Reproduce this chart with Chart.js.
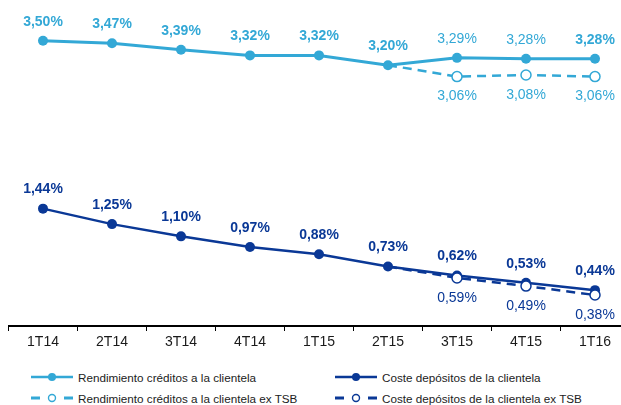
<!DOCTYPE html>
<html>
<head>
<meta charset="utf-8">
<script src="https://cdn.jsdelivr.net/npm/chart.js@4.4.1/dist/chart.umd.min.js"></script>
<style>
  html, body { margin:0; padding:0; background:#fff; }
  #frame { position:relative; width:621px; height:405px; overflow:hidden; }
  #wrap  { position:absolute; left:0; top:0; width:640px; height:355px; }
  #legend {
    position:absolute; left:31px; top:369px;
    display:grid; grid-template-columns:304px 280px; row-gap:5px;
    font:11.7px "Liberation Sans", Arial, sans-serif; color:#222;
  }
  .lg-item { display:flex; align-items:center; height:16px; white-space:nowrap; }
  .lg-item svg { margin-right:5px; flex:none; }
</style>
</head>
<body>
<div id="frame">
  <div id="wrap"><canvas id="chart"></canvas></div>
  <div id="legend"></div>
</div>
<script>
// ── Data ────────────────────────────────────────────────────────────────────
const quarters         = ['1T14','2T14','3T14','4T14','1T15','2T15','3T15','4T15','1T16'];
const rendimiento      = [3.50, 3.47, 3.39, 3.32, 3.32, 3.20, 3.29, 3.28, 3.28];
const rendimientoExTSB = [null, null, null, null, null, 3.20, 3.06, 3.08, 3.06];
const coste            = [1.44, 1.25, 1.10, 0.97, 0.88, 0.73, 0.62, 0.53, 0.44];
const costeExTSB       = [null, null, null, null, null, 0.73, 0.59, 0.49, 0.38];

// ── Styling ─────────────────────────────────────────────────────────────────
const LIGHT = '#33a8d6';
const DARK  = '#0a3896';
const FONT  = '"Liberation Sans", Arial, sans-serif';
const DASH  = [9, 6];

// which labels are bold (others regular), and where the ex-TSB branch starts
const boldRend  = [true, true, true, true, true, true, false, false, true];
const branchIdx = 5;

const fmt = v => v.toFixed(2).replace('.', ',') + '%';

const pointLabels = {
  id: 'pointLabels',
  afterDatasetsDraw(chart) {
    const ctx = chart.ctx;
    ctx.save();
    ctx.textAlign = 'center';
    ctx.textBaseline = 'middle';
    chart.data.datasets.forEach((ds, di) => {
      const meta = chart.getDatasetMeta(di);
      meta.data.forEach((pt, i) => {
        const v = ds.data[i];
        if (v == null) return;
        if (ds.ex && i === branchIdx) return;
        const bold = ds.boldLabels ? ds.boldLabels[i] : false;
        ctx.font = (bold ? 'bold ' : '') + '14px ' + FONT;
        ctx.fillStyle = ds.borderColor;
        const dy = ds.ex ? 20 : -19;
        ctx.fillText(fmt(v), pt.x, pt.y + dy);
      });
    });
    ctx.restore();
  }
};

const hideAt = (n, idx) => Array.from({length:n}, (_, i) => i === idx ? 0 : 5);

const chart = new Chart(document.getElementById('chart').getContext('2d'), {
  type: 'line',
  data: {
    labels: quarters,
    datasets: [{
      label: 'Rendimiento créditos a la clientela',
      data: rendimiento,
      borderColor: LIGHT, backgroundColor: LIGHT,
      pointBackgroundColor: LIGHT, pointBorderColor: LIGHT,
      borderWidth: 3, pointRadius: 5, pointBorderWidth: 0,
      boldLabels: boldRend, order: 2,
    }, {
      label: 'Coste depósitos de la clientela',
      data: coste,
      borderColor: DARK, backgroundColor: DARK,
      pointBackgroundColor: DARK, pointBorderColor: DARK,
      borderWidth: 2.5, pointRadius: 5, pointBorderWidth: 0,
      boldLabels: coste.map(() => true), order: 2,
    }, {
      label: 'Rendimiento créditos a la clientela ex TSB',
      data: rendimientoExTSB, ex: true,
      borderColor: LIGHT, backgroundColor: '#fff',
      pointBackgroundColor: '#fff', pointBorderColor: LIGHT,
      borderWidth: 2.5, borderDash: DASH,
      pointRadius: hideAt(quarters.length, branchIdx), pointBorderWidth: 1.5,
      order: 1,
    }, {
      label: 'Coste depósitos de la clientela ex TSB',
      data: costeExTSB, ex: true,
      borderColor: DARK, backgroundColor: '#fff',
      pointBackgroundColor: '#fff', pointBorderColor: DARK,
      borderWidth: 2.5, borderDash: DASH,
      pointRadius: hideAt(quarters.length, branchIdx), pointBorderWidth: 1.5,
      order: 1,
    }]
  },
  options: {
    responsive: true,
    maintainAspectRatio: false,
    animation: false,
    events: [],
    layout: { padding: { left: 8.5, right: 10.5, top: 0, bottom: 0 } },
    plugins: { legend: { display: false }, tooltip: { enabled: false } },
    scales: {
      x: {
        offset: true,
        grid: { offset: true, drawOnChartArea: false, drawTicks: true, tickLength: 5, color: '#000', lineWidth: 1 },
        border: { display: true, color: '#000', width: 2 },
        ticks: { color: '#1a1a1a', font: { family: FONT, size: 14 }, padding: 3, maxRotation: 0, autoSkip: false },
        afterFit: s => { s.height = 29; }
      },
      y: { display: false, min: 0, max: 3.92 }
    }
  },
  plugins: [pointLabels]
});

// ── HTML legend built from the datasets ─────────────────────────────────────
function legendSvg(ds) {
  const c = ds.borderColor;
  if (!ds.ex) {
    return `<svg width="42" height="10"><line x1="0" y1="5" x2="42" y2="5" stroke="${c}" stroke-width="2.5"/>` +
           `<circle cx="21" cy="5" r="4" fill="${c}"/></svg>`;
  }
  return `<svg width="42" height="10"><line x1="0" y1="5" x2="9" y2="5" stroke="${c}" stroke-width="3"/>` +
         `<line x1="33" y1="5" x2="42" y2="5" stroke="${c}" stroke-width="3"/>` +
         `<circle cx="21" cy="5" r="3.5" fill="#fff" stroke="${c}" stroke-width="1.4"/></svg>`;
}
const legendEl = document.getElementById('legend');
chart.data.datasets.forEach(ds => {
  const item = document.createElement('div');
  item.className = 'lg-item';
  item.innerHTML = legendSvg(ds);
  const span = document.createElement('span');
  span.textContent = ds.label;
  item.appendChild(span);
  legendEl.appendChild(item);
});
</script>
</body>
</html>
